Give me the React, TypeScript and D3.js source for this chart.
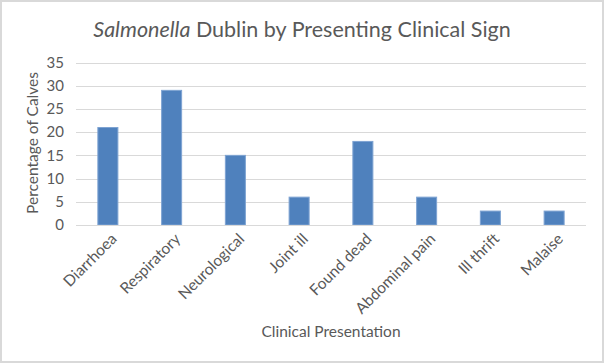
import { useEffect, useRef } from "react";
import * as d3 from "d3";

const categories = [
  "Diarrhoea",
  "Respiratory",
  "Neurological",
  "Joint ill",
  "Found dead",
  "Abdominal pain",
  "Ill thrift",
  "Malaise",
];
const percentages = [21, 29, 15, 6, 18, 6, 3, 3];
const yTicks = [0, 5, 10, 15, 20, 25, 30, 35];

const W = 605;
const H = 364;
const FONT = "Lato, 'Open Sans', sans-serif";
const TEXT = "#595959";

export default function App() {
  const ref = useRef<SVGSVGElement>(null);

  useEffect(() => {
    if (!ref.current) return;
    const svg = d3.select(ref.current);
    svg.selectAll("*").remove();

    const left = 76;
    const right = 586;
    const top = 62.5;
    const bottom = 225;

    // fond + cadre
    svg
      .append("rect")
      .attr("x", 1)
      .attr("y", 1)
      .attr("width", W - 3)
      .attr("height", H - 3)
      .attr("fill", "white")
      .attr("stroke", "#d9d9d9")
      .attr("stroke-width", 2);

    const x = d3.scaleBand<string>().domain(categories).range([left, right]).paddingInner(0.686).paddingOuter(0.343);
    const y = d3.scaleLinear().domain([0, 35]).range([bottom, top]);

    // grille
    svg
      .append("g")
      .selectAll("line")
      .data(yTicks.filter((t) => t > 0))
      .enter()
      .append("line")
      .attr("x1", left)
      .attr("x2", right)
      .attr("y1", (d) => Math.round(y(d)) + 0.5)
      .attr("y2", (d) => Math.round(y(d)) + 0.5)
      .attr("stroke", "#d9d9d9")
      .attr("stroke-width", 1);

    // barres
    svg
      .append("g")
      .selectAll("rect")
      .data(percentages)
      .enter()
      .append("rect")
      .attr("x", (_d, i) => x(categories[i])!)
      .attr("y", (d) => y(d))
      .attr("width", x.bandwidth())
      .attr("height", (d) => bottom - y(d))
      .attr("fill", "#4f81bd")
      .attr("stroke", "#7ea3d2")
      .attr("stroke-width", 1);

    // axe x
    svg
      .append("line")
      .attr("x1", left)
      .attr("x2", right)
      .attr("y1", bottom + 0.5)
      .attr("y2", bottom + 0.5)
      .attr("stroke", "#d9d9d9")
      .attr("stroke-width", 1);

    // ticks y
    svg
      .append("g")
      .selectAll("text")
      .data(yTicks)
      .enter()
      .append("text")
      .attr("x", 64)
      .attr("y", (d) => y(d))
      .attr("dy", "0.35em")
      .attr("text-anchor", "end")
      .style("font-family", FONT)
      .style("font-size", "15px")
      .style("fill", TEXT)
      .text((d) => d);

    // labels x
    svg
      .append("g")
      .selectAll("text")
      .data(categories)
      .enter()
      .append("text")
      .attr("transform", (d) => `translate(${x(d)! + x.bandwidth() / 2 + 6},${bottom + 11}) rotate(-45)`)
      .attr("text-anchor", "end")
      .attr("dy", "0.35em")
      .style("font-family", FONT)
      .style("font-size", "15.5px")
      .style("fill", TEXT)
      .text((d) => d);

    // titre
    const title = svg
      .append("text")
      .attr("x", 302)
      .attr("y", 37)
      .attr("text-anchor", "middle")
      .style("font-family", FONT)
      .style("font-size", "21.5px")
      .style("fill", TEXT);
    title.append("tspan").style("font-style", "italic").text("Salmonella");
    title.append("tspan").text(" Dublin by Presenting Clinical Sign");

    // titres des axes
    svg
      .append("text")
      .attr("transform", `translate(38,143) rotate(-90)`)
      .attr("text-anchor", "middle")
      .style("font-family", FONT)
      .style("font-size", "15.5px")
      .style("fill", TEXT)
      .text("Percentage of Calves");

    svg
      .append("text")
      .attr("x", 331)
      .attr("y", 337)
      .attr("text-anchor", "middle")
      .style("font-family", FONT)
      .style("font-size", "15.5px")
      .style("fill", TEXT)
      .text("Clinical Presentation");
  }, []);

  return <svg ref={ref} width={W} height={H} style={{ position: "absolute", left: 0, top: 0 }} />;
}
